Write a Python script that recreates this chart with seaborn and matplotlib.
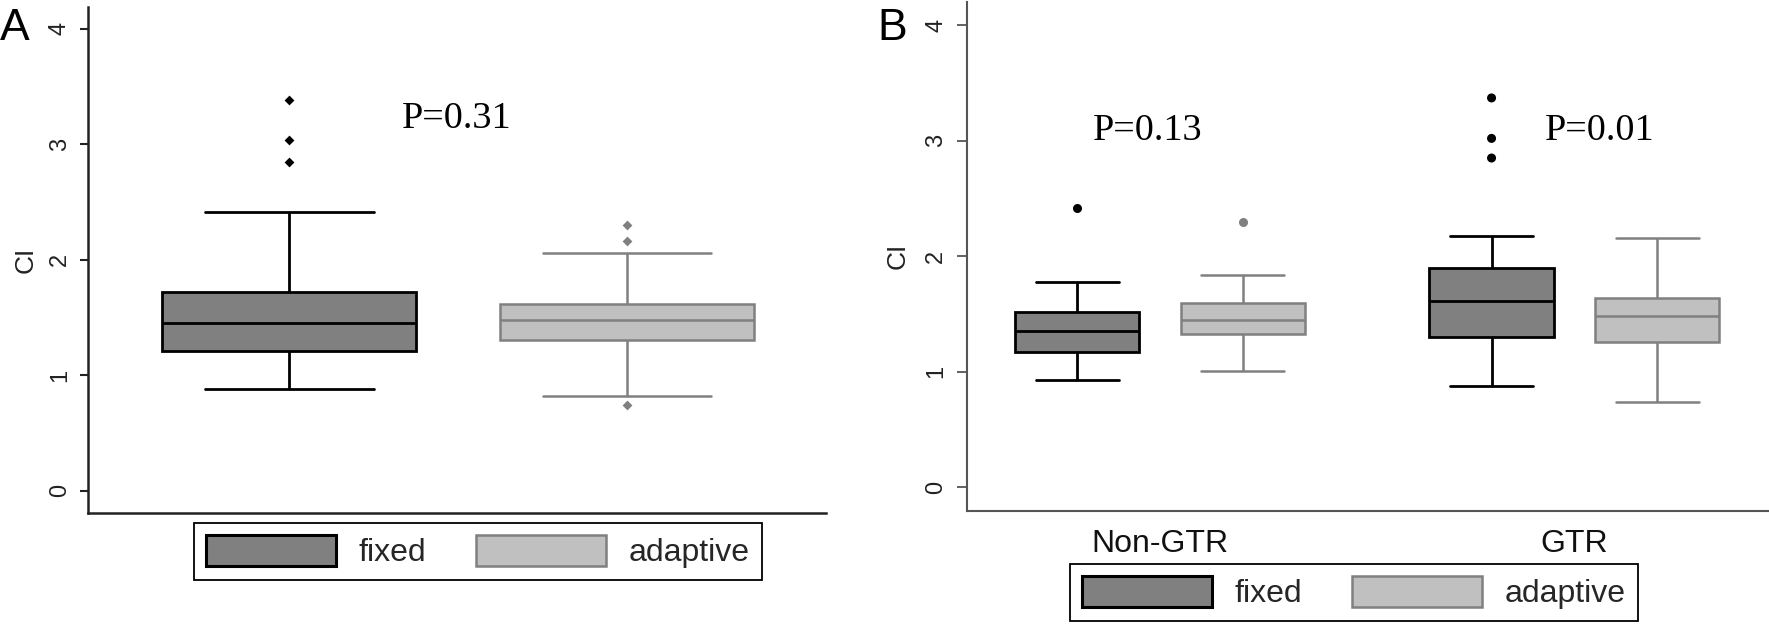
import matplotlib
matplotlib.use("Agg")
import matplotlib.pyplot as plt
from matplotlib.patches import Patch
import seaborn as sns
import pandas as pd

# ---------------- data ----------------
methods = ["fixed", "adaptive"]
groups_b = ["Non-GTR", "GTR"]
yticks = [0, 1, 2, 3, 4]

# five-number summaries: [lower whisker, Q1, median, Q3, upper whisker]
a_fixed_box = [0.88, 1.21, 1.455, 1.72, 2.41]
a_adaptive_box = [0.82, 1.31, 1.475, 1.615, 2.06]
a_fixed_out = [2.845, 3.04, 3.38]
a_adaptive_out = [0.74, 2.16, 2.30]

b_nongtr_fixed_box = [0.925, 1.175, 1.35, 1.515, 1.78]
b_nongtr_adaptive_box = [1.005, 1.33, 1.445, 1.595, 1.835]
b_gtr_fixed_box = [0.88, 1.30, 1.615, 1.90, 2.175]
b_gtr_adaptive_box = [0.735, 1.26, 1.485, 1.635, 2.155]
b_nongtr_fixed_out = [2.42]
b_nongtr_adaptive_out = [2.30]
b_gtr_fixed_out = [2.85, 3.02, 3.37]
b_gtr_adaptive_out = []

p_text_a = "P=0.31"
p_text_b = ["P=0.13", "P=0.01"]

fill_colors = {"fixed": "#808080", "adaptive": "#c0c0c0"}
line_colors = {"fixed": "#000000", "adaptive": "#808080"}

# ---------------- tables ----------------
dfA_box = pd.DataFrame({
    "method": ["fixed"] * len(a_fixed_box) + ["adaptive"] * len(a_adaptive_box),
    "CI": a_fixed_box + a_adaptive_box,
})
dfA_out = pd.DataFrame({
    "method": ["fixed"] * len(a_fixed_out) + ["adaptive"] * len(a_adaptive_out),
    "CI": a_fixed_out + a_adaptive_out,
})

b_box_parts = [("Non-GTR", "fixed", b_nongtr_fixed_box),
               ("Non-GTR", "adaptive", b_nongtr_adaptive_box),
               ("GTR", "fixed", b_gtr_fixed_box),
               ("GTR", "adaptive", b_gtr_adaptive_box)]
b_out_parts = [("Non-GTR", "fixed", b_nongtr_fixed_out),
               ("Non-GTR", "adaptive", b_nongtr_adaptive_out),
               ("GTR", "fixed", b_gtr_fixed_out),
               ("GTR", "adaptive", b_gtr_adaptive_out)]
dfB_box = pd.DataFrame([(g, m, v) for g, m, vals in b_box_parts for v in vals],
                       columns=["group", "method", "CI"])
dfB_out = pd.DataFrame([(g, m, v) for g, m, vals in b_out_parts for v in vals],
                       columns=["group", "method", "CI"])

# ---------------- style ----------------
sns.set_theme(style="white")
plt.rcParams["font.family"] = ["Liberation Sans", "DejaVu Sans"]

fig = plt.figure(figsize=(17.69, 6.28), dpi=100)
axA = fig.add_axes([0.04975, 0.1836, 0.4172, 0.8053])
axB = fig.add_axes([0.5466, 0.1871, 0.4528, 0.8097])

# ---------------- panel A ----------------
for m in methods:
    sns.boxplot(data=dfA_box[dfA_box["method"] == m], x="method", y="CI",
                order=methods, hue="method", hue_order=methods,
                palette=fill_colors, saturation=1, dodge=False, legend=False,
                width=0.75, whis=(0, 100), showfliers=False,
                linecolor=line_colors[m], linewidth=2.0 if m == "fixed" else 1.8,
                capwidths=0.5, ax=axA)
    sns.stripplot(data=dfA_out[dfA_out["method"] == m], x="method", y="CI",
                  order=methods, color=line_colors[m], jitter=False,
                  marker="D", size=5, linewidth=0, ax=axA)

axA.set_xlim(-0.595, 1.589)
axA.set_ylim(-0.19, 4.19)
axA.set_xticks([])
axA.set_xlabel("")
axA.set_yticks(yticks)
axA.set_yticklabels([str(t) for t in yticks], rotation=90, va="center")
axA.tick_params(axis="y", length=5.8, width=1.5, pad=6.5, labelsize=17,
                color="#222222", labelcolor="#222222", left=True)
axA.set_ylabel("CI", fontsize=19, labelpad=8, color="#222222")
sns.despine(ax=axA)
for s in ["left", "bottom"]:
    axA.spines[s].set_linewidth(1.8)
    axA.spines[s].set_color("#222222")
axA.text(0.334, 3.139, p_text_a, family="Liberation Serif", fontsize=27.5,
         ha="left", va="baseline", color="black")

# ---------------- panel B ----------------
for m in methods:
    sns.boxplot(data=dfB_box[dfB_box["method"] == m], x="group", y="CI",
                order=groups_b, hue="method", hue_order=methods,
                palette=fill_colors, saturation=1, dodge=True, legend=False,
                width=0.8, gap=0.25, whis=(0, 100), showfliers=False,
                linecolor=line_colors[m], linewidth=2.0 if m == "fixed" else 1.8,
                capwidths=0.2, ax=axB)
    sub = dfB_out[dfB_out["method"] == m]
    if len(sub):
        sns.stripplot(data=sub, x="group", y="CI", order=groups_b,
                      hue="method", hue_order=methods, palette=line_colors,
                      dodge=True, jitter=False, marker="o", size=6.5,
                      linewidth=0, legend=False, ax=axB)

axB.set_xlim(-0.466, 1.467)
axB.set_ylim(-0.2, 4.2)
axB.set_xticks(range(len(groups_b)))
axB.set_xticklabels(groups_b, fontsize=23, color="#111111")
axB.tick_params(axis="x", length=0, pad=13)
axB.set_xlabel("")
axB.set_yticks(yticks)
axB.set_yticklabels([str(t) for t in yticks], rotation=90, va="center")
axB.tick_params(axis="y", length=7.2, width=1.3, pad=7, labelsize=17,
                color="#555555", labelcolor="#222222", left=True)
axB.set_ylabel("CI", fontsize=19, labelpad=11, color="#222222")
sns.despine(ax=axB)
for s in ["left", "bottom"]:
    axB.spines[s].set_linewidth(1.5)
    axB.spines[s].set_color("#555555")
axB.text(-0.162, 3.004, p_text_b[0], family="Liberation Serif", fontsize=27.5,
         ha="left", va="baseline", color="black")
axB.text(0.929, 3.004, p_text_b[1], family="Liberation Serif", fontsize=27.5,
         ha="left", va="baseline", color="black")

# ---------------- legends ----------------
def make_handles():
    return [Patch(facecolor=fill_colors["fixed"], edgecolor=line_colors["fixed"], linewidth=2.2),
            Patch(facecolor=fill_colors["adaptive"], edgecolor=line_colors["adaptive"], linewidth=1.8)]

leg_kw = dict(ncol=2, fontsize=23, frameon=True, fancybox=False, shadow=False,
              framealpha=1, edgecolor="black", handlelength=4.06, handleheight=1.1,
              handletextpad=0.72, columnspacing=1.56, borderpad=0.38,
              borderaxespad=0, loc="upper left")
legA = fig.legend(make_handles(), methods, bbox_to_anchor=(194 / 1769, 1 - 523 / 628), **leg_kw)
legB = fig.legend(make_handles(), methods, bbox_to_anchor=(1070 / 1769, 1 - 564 / 628), **leg_kw)
for lg in (legA, legB):
    lg.get_frame().set_linewidth(1.3)

# ---------------- panel letters ----------------
fig.text(0.0, 1 - 40 / 628, "A", fontsize=32, ha="left", va="baseline", color="black")
fig.text(877 / 1769, 1 - 40 / 628, "B", fontsize=32, ha="left", va="baseline", color="black")

fig.savefig("out.png", dpi=100)
